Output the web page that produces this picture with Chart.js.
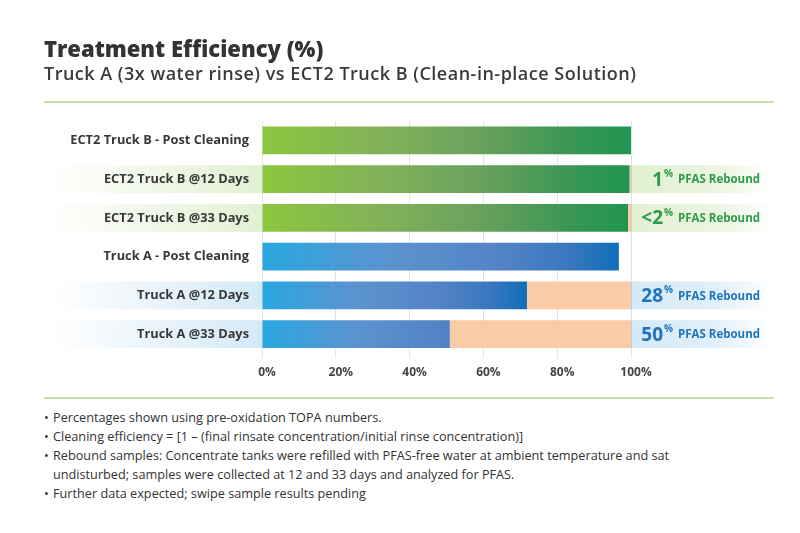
<!DOCTYPE html>
<html>
<head>
<meta charset="utf-8">
<script src="https://cdn.jsdelivr.net/npm/chart.js@4.4.0/dist/chart.umd.min.js"></script>
<style>
  body { margin: 0; background: #fff; font-family: "Open Sans", sans-serif; color: #333; }
  #page { position: relative; width: 800px; height: 533px; overflow: hidden; }
  #chartBox { position: absolute; left: 0; top: 0; width: 800px; height: 400px; }
  .title { position: absolute; left: 44px; top: 33px; font-size: 22px; font-weight: 800; color: #333; white-space: nowrap; }
  .subtitle { position: absolute; left: 44px; top: 61px; font-size: 18px; font-weight: 600; letter-spacing: 0.5px; color: #3a3a3a; white-space: nowrap; }
  .rule { position: absolute; left: 44px; width: 730px; height: 2px; background: #c7e2a6; }
  .notes { position: absolute; left: 44px; top: 408px; width: 650px; font-size: 12.7px; line-height: 19px; color: #333; margin: 0; padding: 0; list-style: none; }
  .notes li { padding-left: 9px; text-indent: -9px; }
  .notes li:before { content: "\2022"; display: inline-block; width: 9px; text-indent: 0; }
</style>
</head>
<body>
<div id="page">
  <div id="chartBox"><canvas id="graph" width="800" height="400"></canvas></div>
  <div class="title">Treatment Efficiency (%)</div>
  <div class="subtitle">Truck A (3x water rinse) vs ECT2 Truck B (Clean-in-place Solution)</div>
  <div class="rule" style="top:101px"></div>
  <div class="rule" style="top:397px"></div>
  <ul class="notes">
    <li>Percentages shown using pre-oxidation TOPA numbers.</li>
    <li>Cleaning efficiency = [1 – (final rinsate concentration/initial rinse concentration)]</li>
    <li>Rebound samples: Concentrate tanks were refilled with PFAS-free water at ambient temperature and sat undisturbed; samples were collected at 12 and 33 days and analyzed for PFAS.</li>
    <li>Further data expected; swipe sample results pending</li>
  </ul>
</div>
<script>
// donnees
var categories = [
    "ECT2 Truck B - Post Cleaning",
    "ECT2 Truck B @12 Days",
    "ECT2 Truck B @33 Days",
    "Truck A - Post Cleaning",
    "Truck A @12 Days",
    "Truck A @33 Days"
];
var efficacite = [100, 99.6, 99.2, 96.7, 71.8, 50.9];
var rebond = [0, 0.4, 0.8, 0, 28.2, 49.1];
var rebondTexte = ["", "1", "<2", "", "28", "50"];
var ticksX = [0, 20, 40, 60, 80, 100];

// style
var police = 'Open Sans';
var groupe = ["vert", "vert", "vert", "bleu", "bleu", "bleu"];
var finDegrade = [100, 100, 100, 97, 72, 72];
var couleurs = {
    vert: { stops: [[0, '#8dc63f'], [0.35, '#80b05a'], [0.6, '#68a05d'], [0.85, '#389553'], [1, '#1f9650']], bande: '226,240,210', texte: '#2e9a4a' },
    bleu: { stops: [[0, '#29a8e0'], [0.35, '#5b93d0'], [0.65, '#5484c6'], [0.85, '#3b78bf'], [1, '#0e6eb8']], bande: '212,233,247', texte: '#1f74be' }
};

function degrade(context)
{
    var chart = context.chart;
    var area = chart.chartArea;
    if (!area) return '#8dc63f';
    var i = context.dataIndex;
    var x = chart.scales.x;
    var g = chart.ctx.createLinearGradient(x.getPixelForValue(0), 0, x.getPixelForValue(finDegrade[i]), 0);
    couleurs[groupe[i]].stops.forEach(function(s){ g.addColorStop(s[0], s[1]); });
    return g;
}

var bandes = {
    id: 'bandes',
    beforeDraw: function(chart)
    {
        var ctx = chart.ctx;
        var meta = chart.getDatasetMeta(0);
        var area = chart.chartArea;
        for (var i = 0; i < categories.length; i++) {
            if (rebondTexte[i] == "") continue;
            var bar = meta.data[i];
            var h = bar.height;
            var c = couleurs[groupe[i]].bande;
            var g1 = ctx.createLinearGradient(50, 0, area.left, 0);
            g1.addColorStop(0, 'rgba(' + c + ',0)');
            g1.addColorStop(1, 'rgba(' + c + ',1)');
            ctx.fillStyle = g1;
            ctx.fillRect(50, bar.y - h / 2, area.left - 50, h);
            var g2 = ctx.createLinearGradient(area.right, 0, 772, 0);
            g2.addColorStop(0, 'rgba(' + c + ',1)');
            g2.addColorStop(0.6, 'rgba(' + c + ',0.7)');
            g2.addColorStop(1, 'rgba(' + c + ',0)');
            ctx.fillStyle = g2;
            ctx.fillRect(area.right, bar.y - h / 2, 772 - area.right, h);
        }
    },
    afterDatasetsDraw: function(chart)
    {
        var ctx = chart.ctx;
        var meta = chart.getDatasetMeta(0);
        ctx.save();
        for (var i = 0; i < categories.length; i++) {
            if (rebondTexte[i] == "") continue;
            var y = meta.data[i].y;
            ctx.fillStyle = couleurs[groupe[i]].texte;
            ctx.textBaseline = 'middle';
            ctx.textAlign = 'right';
            ctx.font = 'bold 19px "' + police + '"';
            ctx.fillText(rebondTexte[i], 663, y + 1);
            ctx.textAlign = 'left';
            ctx.font = 'bold 10px "' + police + '"';
            ctx.fillText('%', 664, y - 5);
            ctx.font = 'bold 11.5px "' + police + '"';
            ctx.fillText('PFAS Rebound', 678, y + 1);
        }
        ctx.restore();
    }
};

var graphTarget = document.getElementById('graph');
var myGraph = new Chart(graphTarget, {
    type: 'bar',
    data: {
        labels: categories,
        datasets: [
            {
                label: 'Efficacité',
                data: efficacite,
                backgroundColor: degrade,
                borderWidth: 0
            },
            {
                label: 'Rebond',
                data: rebond,
                backgroundColor: '#f9cba7',
                borderWidth: 0
            }
        ]
    },
    plugins: [bandes],
    options: {
        indexAxis: 'y',
        responsive: false,
        animation: false,
        barPercentage: 0.72,
        categoryPercentage: 1,
        layout: { padding: { top: 121, right: 169, left: 0, bottom: 0 } },
        plugins: {
            legend: { display: false },
            tooltip: { enabled: false }
        },
        scales: {
            x: {
                stacked: true,
                min: 0,
                max: 100,
                z: 1,
                afterFit: function(scale) { scale.height = 46.5; },
                afterBuildTicks: function(scale) { scale.ticks = ticksX.map(function(v){ return { value: v }; }); },
                border: { display: false },
                grid: { color: 'rgba(0,0,0,0.11)', tickLength: 5 },
                ticks: {
                    padding: 7,
                    labelOffset: 5,
                    color: '#444',
                    font: { family: police, size: 12, weight: 'bold' },
                    callback: function(v) { return v + '%'; }
                }
            },
            y: {
                stacked: true,
                afterFit: function(scale) { scale.width = 262; },
                border: { display: false },
                grid: { display: false, drawTicks: false },
                ticks: {
                    padding: 13,
                    color: '#383838',
                    font: { family: police, size: 12.8, weight: 'bold' }
                }
            }
        }
    }
});
</script>
</body>
</html>
